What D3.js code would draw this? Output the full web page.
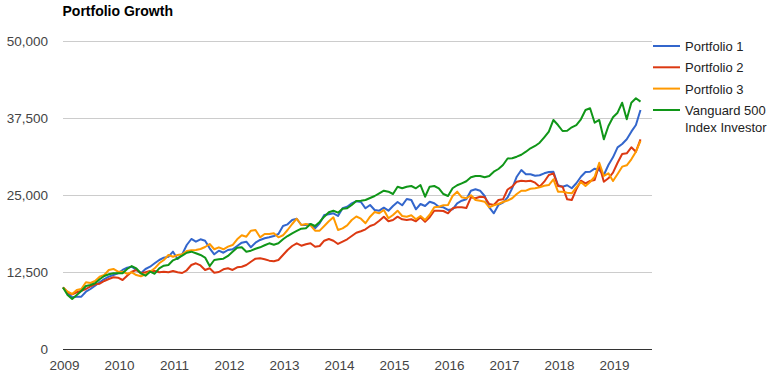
<!DOCTYPE html>
<html>
<head>
<meta charset="utf-8">
<script src="https://cdnjs.cloudflare.com/ajax/libs/d3/7.8.5/d3.min.js"></script>
<style>
  html, body { margin: 0; padding: 0; background: #fff; }
  svg { display: block; font-family: Arial, "Liberation Sans", sans-serif; }
</style>
</head>
<body>
<svg id="chart" width="770" height="378"></svg>
<script>
// ---- DATA (monthly, Jan 2009 .. Jul 2019) ----
const startYear = 2009;
const xTickLabels = [2009, 2010, 2011, 2012, 2013, 2014, 2015, 2016, 2017, 2018, 2019];
const yTickValues = [0, 12500, 25000, 37500, 50000];
const seriesNames = ["Portfolio 1", "Portfolio 2", "Portfolio 3", "Vanguard 500 Index Investor"];
const seriesColors = ["#3366cc", "#dc3912", "#ff9900", "#109618"];

const portfolio1 = [
  10000, 9100, 8400, 8500, 8500, 9300, 9740, 10280, 10830, 11360, 11740, 12010,
  12290, 12830, 13200, 13360, 12830, 12290, 12990, 13360, 13910, 14450, 14820, 14980,
  15800, 14610, 15370, 16880, 17860, 17420, 17810, 17580, 16350, 15370, 15960, 15630,
  16070, 16190, 16720, 17260, 17420, 16510, 17260, 17700, 17970, 18130, 18340, 18670,
  19970, 20240, 20940, 21150, 20130, 20130, 20290, 19590, 20410, 21750, 21870, 22030,
  21590, 22840, 23100, 23650, 24000, 23860, 22840, 23380, 22570, 22450, 22940, 22450,
  23220, 23860, 23330, 24350, 24190, 22680, 23540, 23220, 23910, 23650, 23100, 23000,
  22570, 22680, 23650, 24080, 24300, 25700, 25930, 25700, 24840, 23000, 22030, 23380,
  23750, 24600, 26090, 27970, 29060, 28360, 28360, 28130, 28200, 28520, 28730, 28780,
  26580, 26350, 26580, 26090, 26900, 27970, 28730, 28780, 29270, 29060, 28250, 29870,
  31120, 32740, 33280, 34040, 35280, 36360, 38800
];
const portfolio2 = [
  10000, 9210, 8880, 9210, 9460, 9740, 10180, 10500, 10600, 11040, 11360, 11640,
  11580, 11200, 11900, 12550, 12830, 12290, 12450, 12660, 12660, 12450, 12550, 12450,
  12660, 12450, 12340, 12780, 13640, 13910, 13560, 12830, 13100, 12390, 12500, 12940,
  13100, 12830, 13260, 13360, 13640, 14170, 14660, 14720, 14560, 14340, 14240, 14450,
  15260, 16070, 16720, 17160, 16770, 17000, 17160, 16610, 16720, 17580, 17860, 17580,
  17050, 17420, 17810, 18340, 18880, 19110, 19430, 19970, 20240, 20830, 21480, 20730,
  20940, 21480, 21060, 20940, 21060, 20730, 21380, 20670, 21380, 22450, 22450, 22400,
  22030, 22840, 23000, 23000, 22890, 24630, 24470, 24720, 24630, 23540, 23380, 24190,
  24300, 25890, 26350, 27160, 27320, 27230, 27320, 27000, 26350, 27160, 28250, 28520,
  26460, 26350, 24300, 24190, 25930, 27320, 26900, 27270, 27440, 29870, 27160, 27710,
  28620, 30240, 31660, 31770, 32740, 32030, 34040
];
const portfolio3 = [
  10000, 9300, 8930, 9580, 9740, 10830, 10710, 11040, 11740, 12010, 12830, 12990,
  12550, 12550, 12220, 12450, 12010, 11800, 12130, 12550, 13100, 13910, 14450, 15260,
  14980, 15260, 15370, 15910, 16020, 16070, 16230, 16560, 17050, 16190, 16510, 16190,
  16610, 16880, 17810, 18460, 18230, 19210, 19320, 18130, 18670, 18670, 18780, 18130,
  18460, 19320, 20290, 21150, 20130, 20290, 20080, 19210, 19210, 19970, 20730, 21380,
  19320, 19590, 20080, 20940, 21510, 21150, 20410, 21480, 22240, 22030, 22570, 21220,
  21750, 22450, 21590, 21480, 21710, 21060, 21590, 20940, 21800, 23000, 23100, 23330,
  23380, 24840, 25540, 24630, 24470, 24950, 24190, 24080, 23910, 23000, 23330, 23540,
  23860, 24110, 24470, 25160, 25700, 25700, 26020, 26090, 26250, 26510, 26620, 27550,
  25540, 25540, 25370, 25280, 26250, 27110, 26460, 27110, 27970, 30240, 28090, 28520,
  27270, 28410, 29600, 29820, 30800, 32030, 33770
];
const vanguard500 = [
  10000, 8770, 8120, 8770, 9420, 10230, 10390, 10670, 11320, 11850, 12130, 12290,
  12290, 12290, 12990, 13470, 13100, 12290, 11900, 12550, 12220, 13100, 13520, 13640,
  14400, 14720, 15150, 15630, 15800, 15540, 15260, 14850, 13470, 14450, 14560, 14660,
  15100, 15800, 16450, 16510, 15800, 15960, 16280, 16510, 16840, 17160, 16930, 17160,
  17810, 18340, 18780, 19160, 19530, 19590, 20290, 19970, 20620, 21480, 22190, 22450,
  22130, 22780, 22840, 23380, 24030, 24080, 24190, 24510, 24840, 25280, 25700, 25540,
  25160, 26350, 26090, 26350, 26460, 26090, 26620, 24720, 26350, 26460, 26090, 25160,
  24840, 26090, 26580, 26900, 27230, 27870, 28090, 28090, 27870, 28090, 28780, 29220,
  29870, 30930, 30960, 31220, 31540, 32030, 32580, 32960, 33490, 34370, 35280, 37180,
  36360, 35390, 35440, 35990, 36360, 37290, 38800, 39080, 36740, 37180, 34040, 36200,
  37610, 38360, 39980, 37290, 39980, 40700, 40150
];
const allSeries = [portfolio1, portfolio2, portfolio3, vanguard500];

// ---- CHART ----
const svg = d3.select("#chart");
const W = 770, H = 378;
const plot = { left: 63, right: 652, top: 41, bottom: 349 };

const x = d3.scaleLinear()
  .domain([startYear, 2019 + 39 / 55])
  .range([plot.left, plot.right]);
const y = d3.scaleLinear()
  .domain([0, 50000])
  .range([plot.bottom, plot.top]);

// Title
svg.append("text")
  .attr("x", 62.5).attr("y", 16)
  .attr("font-size", 14).attr("font-weight", "bold")
  .attr("fill", "#000")
  .text("Portfolio Growth");

// Gridlines + y labels
const yAxis = d3.axisLeft(y)
  .tickValues(yTickValues)
  .tickSize(-(plot.right - plot.left))
  .tickPadding(15)
  .tickFormat(d3.format(","));
const gy = svg.append("g")
  .attr("transform", `translate(${plot.left},0)`)
  .call(yAxis);
gy.select(".domain").remove();
gy.selectAll(".tick line")
  .attr("stroke", "#cccccc").attr("stroke-width", 1)
  .attr("shape-rendering", "crispEdges");
gy.selectAll(".tick text")
  .attr("font-size", 13.5).attr("fill", "#444")
  .attr("font-family", "Arial, 'Liberation Sans', sans-serif");

// x axis labels
const xAxis = d3.axisBottom(x)
  .tickValues(xTickLabels)
  .tickSize(0)
  .tickPadding(11)
  .tickFormat(d3.format("d"));
const gx = svg.append("g")
  .attr("transform", `translate(0,${plot.bottom})`)
  .call(xAxis);
gx.select(".domain").remove();
gx.selectAll(".tick text")
  .attr("font-size", 13.5).attr("fill", "#444")
  .attr("font-family", "Arial, 'Liberation Sans', sans-serif")
  .attr("dx", 1);

// Baseline
svg.append("line")
  .attr("x1", plot.left).attr("x2", plot.right)
  .attr("y1", y(0) + 0.5).attr("y2", y(0) + 0.5)
  .attr("stroke", "#333").attr("stroke-width", 1);

// Lines
const line = d3.line()
  .x((d, i) => x(startYear + i / 12))
  .y(d => y(d));
allSeries.forEach((s, k) => {
  svg.append("path")
    .datum(s)
    .attr("fill", "none")
    .attr("stroke", seriesColors[k])
    .attr("stroke-width", 2)
    .attr("stroke-linejoin", "round")
    .attr("d", line);
});

// Legend
const legendY = [46, 67.3, 88.6, 110];
const lg = svg.append("g").attr("font-size", 13).attr("fill", "#222");
seriesNames.forEach((name, k) => {
  lg.append("line")
    .attr("x1", 653).attr("x2", 680)
    .attr("y1", legendY[k]).attr("y2", legendY[k])
    .attr("stroke", seriesColors[k]).attr("stroke-width", 2);
  const t = lg.append("text").attr("x", 685).attr("y", legendY[k] + 5);
  if (name.length > 14) {
    const parts = ["Vanguard 500", "Index Investor"];
    parts.forEach((p, j) => {
      t.append("tspan").attr("x", 685).attr("dy", j === 0 ? 0 : 17.3).text(p);
    });
  } else {
    t.text(name);
  }
});
</script>
</body>
</html>
